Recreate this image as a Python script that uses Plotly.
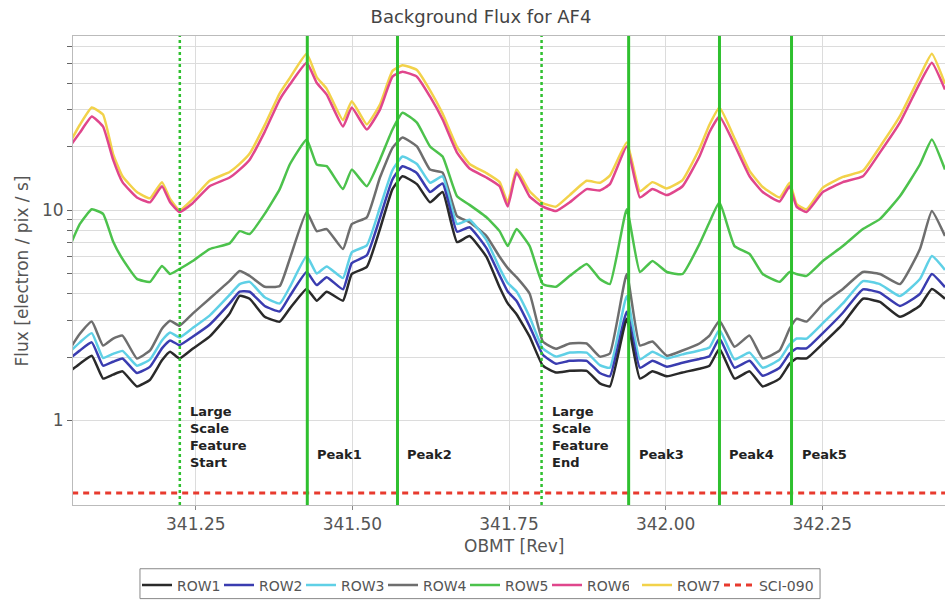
import plotly.graph_objects as go

# OBMT sample positions [Rev]
obmt = [341.049, 341.065, 341.084, 341.102, 341.118, 341.133, 341.156, 341.177, 341.196, 341.209,
        341.224, 341.245, 341.272, 341.304, 341.320, 341.336, 341.360, 341.384, 341.400, 341.427,
        341.443, 341.459, 341.485, 341.499, 341.523, 341.544, 341.564, 341.580, 341.603, 341.624,
        341.644, 341.667, 341.687, 341.714, 341.735, 341.748, 341.762, 341.783, 341.804, 341.825,
        341.847, 341.874, 341.895, 341.911, 341.938, 341.959, 341.979, 342.002, 342.027, 342.054,
        342.070, 342.086, 342.110, 342.134, 342.155, 342.182, 342.198, 342.209, 342.225, 342.251,
        342.283, 342.315, 342.342, 342.374, 342.406, 342.425, 342.446]

row1 = [1.71, 1.86, 2.03, 1.58, 1.65, 1.71, 1.45, 1.56, 1.93, 2.12,
        1.97, 2.19, 2.50, 3.22, 3.91, 3.79, 3.11, 2.95, 3.40, 4.22,
        3.71, 4.09, 3.71, 4.97, 5.37, 8.13, 12.6, 14.5, 13.3, 10.9,
        12.2, 7.05, 7.53, 6.00, 4.30, 3.60, 3.20, 2.50, 1.82, 1.69,
        1.72, 1.72, 1.50, 1.45, 3.04, 1.58, 1.71, 1.62, 1.69, 1.76,
        1.82, 2.19, 1.58, 1.71, 1.45, 1.58, 1.86, 1.97, 1.97, 2.32,
        2.88, 3.79, 3.66, 3.11, 3.51, 4.22, 3.79]

row2 = [1.97, 2.15, 2.35, 1.82, 1.90, 1.97, 1.68, 1.80, 2.20, 2.40,
        2.28, 2.50, 2.85, 3.60, 4.10, 4.09, 3.50, 3.30, 3.90, 5.08,
        4.40, 4.80, 4.20, 5.60, 6.10, 9.20, 14.0, 16.2, 15.0, 12.2,
        13.4, 7.90, 8.30, 6.60, 4.90, 4.10, 3.70, 2.80, 2.05, 1.86,
        1.92, 1.92, 1.68, 1.62, 3.29, 1.78, 1.92, 1.80, 1.88, 1.96,
        2.02, 2.45, 1.78, 1.92, 1.63, 1.78, 2.08, 2.20, 2.20, 2.60,
        3.25, 4.20, 4.05, 3.50, 4.00, 4.97, 4.30]

row3 = [2.12, 2.35, 2.60, 1.98, 2.07, 2.14, 1.82, 1.95, 2.40, 2.62,
        2.48, 2.75, 3.15, 3.95, 4.45, 4.56, 3.85, 3.60, 4.30, 6.05,
        5.00, 5.40, 4.75, 6.30, 6.80, 10.3, 15.5, 18.0, 16.6, 13.5,
        14.5, 8.60, 9.00, 7.20, 5.30, 4.50, 4.10, 3.10, 2.20, 2.01,
        2.10, 2.10, 1.83, 1.78, 3.91, 1.95, 2.12, 1.97, 2.06, 2.15,
        2.22, 2.70, 1.95, 2.10, 1.78, 1.95, 2.30, 2.45, 2.45, 2.90,
        3.60, 4.60, 4.45, 3.90, 4.70, 6.05, 5.20]

row4 = [2.19, 2.58, 2.95, 2.27, 2.45, 2.53, 1.97, 2.15, 2.73, 2.98,
        2.82, 3.22, 3.79, 4.61, 5.14, 4.87, 4.32, 4.36, 5.86, 9.80,
        7.95, 8.13, 6.53, 8.58, 9.25, 14.3, 19.8, 22.2, 20.1, 15.6,
        15.1, 9.37, 8.77, 7.53, 6.00, 5.30, 4.80, 4.00, 2.37, 2.19,
        2.32, 2.32, 2.01, 2.08, 4.97, 2.27, 2.37, 2.03, 2.15, 2.32,
        2.53, 2.98, 2.24, 2.53, 1.97, 2.15, 2.73, 3.04, 2.95, 3.58,
        4.22, 5.08, 4.97, 4.45, 6.53, 9.90, 7.53]

row5 = [6.75, 8.60, 10.1, 9.60, 7.10, 5.86, 4.71, 4.56, 5.43, 4.97,
        5.25, 5.73, 6.53, 6.95, 7.95, 7.70, 9.60, 12.6, 16.5, 21.7,
        16.5, 16.2, 12.6, 15.6, 13.0, 17.4, 24.2, 29.1, 26.1, 20.1,
        18.0, 11.65, 10.6, 9.25, 7.95, 6.75, 8.13, 6.75, 4.45, 4.32,
        4.87, 5.55, 4.71, 4.45, 10.1, 5.08, 5.73, 5.08, 4.97, 6.90,
        8.77, 10.9, 6.75, 6.20, 4.97, 4.56, 5.08, 4.97, 4.87, 5.73,
        6.75, 8.13, 9.07, 11.65, 16.5, 21.7, 15.6]

row6 = [20.1, 23.4, 27.9, 25.0, 17.4, 13.6, 11.5, 10.9, 13.0, 10.9,
        9.8, 10.8, 13.0, 14.3, 15.6, 17.4, 23.6, 33.6, 39.6, 50.3,
        40.4, 35.5, 25.0, 30.8, 24.2, 30.1, 43.2, 45.6, 43.2, 34.7,
        27.0, 18.8, 15.8, 14.3, 13.0, 10.4, 15.1, 11.6, 10.4, 9.9,
        10.9, 12.6, 12.4, 13.3, 20.1, 11.5, 12.6, 11.8, 13.0, 18.0,
        23.5, 27.9, 20.5, 14.5, 12.2, 11.0, 13.0, 10.4, 9.8, 12.2,
        13.6, 14.5, 18.8, 26.1, 40.4, 50.3, 37.5]

row7 = [21.0, 25.5, 30.8, 28.5, 18.5, 14.5, 12.2, 11.4, 13.6, 11.3,
        10.0, 11.3, 13.8, 15.2, 16.6, 18.6, 25.4, 36.0, 42.5, 55.5,
        43.0, 37.8, 26.8, 33.0, 25.6, 31.8, 46.0, 49.0, 46.5, 37.2,
        28.8, 20.0, 16.6, 15.0, 13.6, 10.9, 15.6, 12.3, 10.8, 10.4,
        11.8, 13.8, 13.5, 14.6, 21.0, 12.3, 13.6, 12.7, 13.9, 19.6,
        25.5, 30.8, 22.0, 15.4, 12.9, 11.5, 13.5, 10.7, 10.1, 12.8,
        14.4, 15.4, 20.0, 28.0, 43.5, 55.5, 40.0]

sci090_x = [341.0, 342.5]
sci090_y = [0.451, 0.451]

# event markers
event_x = [341.2245, 341.428, 341.572, 341.802, 341.941, 342.086, 342.201]
event_labels = ["Large<br>Scale<br>Feature<br>Start", "Peak1", "Peak2",
                "Large<br>Scale<br>Feature<br>End", "Peak3", "Peak4", "Peak5"]
event_dotted = [True, False, False, True, False, False, False]

series = [
    ("ROW1", row1, "#2a2a2a"),
    ("ROW2", row2, "#3a3cb0"),
    ("ROW3", row3, "#5fd0e6"),
    ("ROW4", row4, "#6e6e6e"),
    ("ROW5", row5, "#4cc24c"),
    ("ROW6", row6, "#e0468c"),
    ("ROW7", row7, "#f2d24a"),
]
draw_order = ["ROW5", "ROW7", "ROW6", "ROW4", "ROW3", "ROW2", "ROW1"]

fig = go.Figure()
lookup = {n: (v, c, i) for i, (n, v, c) in enumerate(series)}
for name in draw_order:
    vals, col, idx = lookup[name]
    fig.add_trace(go.Scatter(x=obmt, y=vals, mode="lines", name=name,
                             line=dict(color=col, width=2.5, shape="spline", smoothing=0.4),
                             legendrank=idx + 1,
                             legend="legend3" if name == "ROW7" else "legend"))
fig.add_trace(go.Scatter(x=sci090_x, y=sci090_y, mode="lines", name="SCI-090",
                         line=dict(color="#e83a2e", width=3, dash="6px,5px"),
                         legend="legend2"))

for xv, lab, dotted in zip(event_x, event_labels, event_dotted):
    fig.add_shape(type="line", x0=xv, x1=xv, y0=0, y1=1, xref="x", yref="paper",
                  line=dict(color="#2fc02f", width=3 if not dotted else 2.5,
                            dash="dot" if dotted else "solid"), layer="above")
    multi = "<br>" in lab
    fig.add_annotation(x=xv, y=0.145 if multi else 0.108, xref="x", yref="paper",
                       text=lab, showarrow=False, xanchor="left", yanchor="middle",
                       xshift=8, align="left",
                       font=dict(family="DejaVu Sans", size=13, color="#222", weight="bold"))

# legend frame
fig.add_shape(type="rect", xref="paper", yref="paper", x0=0.0768, x1=0.8567,
              y0=-0.1996, y1=-0.1359, line=dict(color="#888", width=1),
              fillcolor="rgba(0,0,0,0)", layer="below")

yticks = [1, 2, 3, 4, 5, 6, 7, 8, 9, 10, 20, 30, 40, 50, 60]
ytext = ["1" if v == 1 else ("10" if v == 10 else "") for v in yticks]

leg_common = dict(orientation="h", y=-0.1375, xanchor="left", yanchor="top",
                  borderwidth=0, bgcolor="rgba(0,0,0,0)",
                  font=dict(size=14, color="#555"))

fig.update_layout(
    width=945, height=602,
    margin=dict(l=73, r=0, t=36, b=95),
    paper_bgcolor="white", plot_bgcolor="white",
    font=dict(family="DejaVu Sans", color="#555"),
    title=dict(text="Background Flux for AF4", x=0.509, xanchor="center", y=0.972,
               yanchor="middle", font=dict(size=18, color="#444")),
    showlegend=True,
    legend=dict(x=0.0734, entrywidth=37, entrywidthmode="pixels",
                traceorder="normal", **leg_common),
    legend3=dict(x=0.6468, **leg_common),
    legend2=dict(x=0.7408, **leg_common),
    xaxis=dict(range=[341.054, 342.446], tick0=341.0, dtick=0.25, tickformat=".2f",
               showgrid=True, gridcolor="#dcdcdc", zeroline=False,
               showline=True, linecolor="#bbb", mirror=True,
               ticks="outside", ticklen=4, tickcolor="#888",
               tickfont=dict(size=17, color="#555")),
    yaxis=dict(type="log", range=[-0.403, 1.829], tickvals=yticks, ticktext=ytext,
               showgrid=True, gridcolor="#dcdcdc", zeroline=False,
               showline=True, linecolor="#bbb", mirror=True,
               ticks="outside", ticklen=5, tickcolor="#666",
               tickfont=dict(size=17, color="#555")),
)

fig.add_annotation(text="OBMT [Rev]", x=0.506, y=-0.087, xref="paper", yref="paper",
                   showarrow=False, xanchor="center", yanchor="middle",
                   font=dict(size=17, color="#555"))
fig.add_annotation(text="Flux [electron / pix / s]", x=-0.0585, y=0.5, xref="paper",
                   yref="paper", showarrow=False, textangle=-90, xanchor="center",
                   yanchor="middle", font=dict(size=17, color="#555"))

fig.write_html("out.html")
